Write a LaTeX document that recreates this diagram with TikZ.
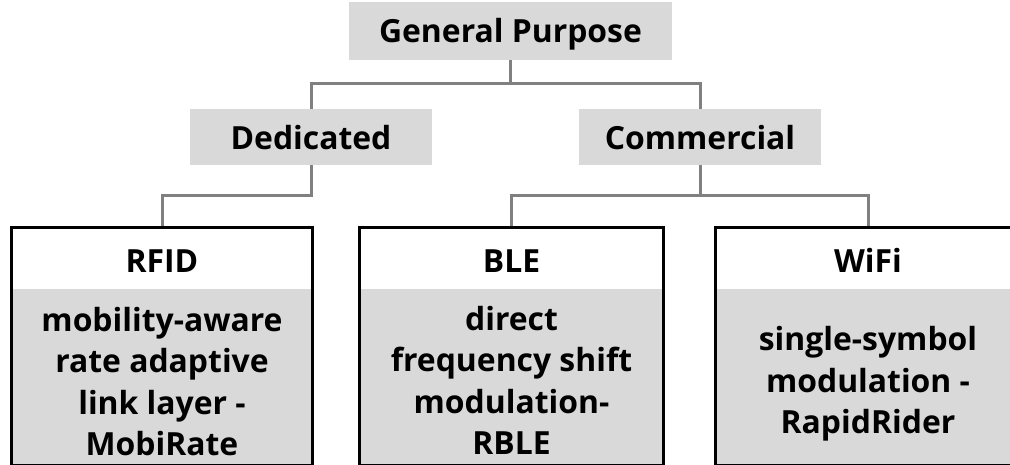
\documentclass[tikz,border=0pt]{standalone}
\usepackage{fontspec}
\setmainfont{Open Sans}
\usetikzlibrary{calc}
\definecolor{boxgray}{HTML}{D9D9D9}
\definecolor{linegray}{HTML}{808080}
\tikzset{
  x=1bp, y=1bp,
  txt/.style={font=\fontsize{32}{41.7}\selectfont\bfseries},
  catbox/.style={txt, fill=boxgray, minimum width=242bp, minimum height=56bp, inner sep=0pt, text height=26bp, text depth=0bp},
  conn/.style={draw=linegray, line width=3bp},
  headbox/.style={txt, minimum height=62bp, inner sep=0pt, text height=29bp, text depth=0bp},
  bodybox/.style={fill=boxgray, minimum height=176bp, inner sep=0pt},
  bodytext/.style={txt, align=center, inner sep=0pt, anchor=base},
  frame/.style={draw=black, line width=3bp},
}
\begin{document}
\begin{tikzpicture}
\useasboundingbox (0,0) rectangle (1010,465);
\clip (0,0) rectangle (1010,465);

% category boxes
\node[catbox, minimum width=323bp, minimum height=58bp, text height=24bp] (gp) at (510.5,434) {General Purpose};
\node[catbox] (ded) at (311,328) {Dedicated};
\node[catbox] (com) at (700,328) {Commercial};

% bottom boxes: headers and bodies
\node[headbox, minimum width=301bp] (rfidh) at (162,206.5) {RFID};
\node[bodybox, minimum width=301bp] (rfidb) at (162,87.5) {};
\node[headbox, minimum width=304bp] (bleh) at (511.5,206.5) {BLE};
\node[bodybox, minimum width=304bp] (bleb) at (511.5,87.5) {};
\node[headbox, minimum width=305bp] (wifih) at (868,206.5) {WiFi};
\node[bodybox, minimum width=305bp] (wifib) at (868,87.5) {};

% body texts (anchor = baseline of last line)
\node[bodytext] (rfidt) at (162,9) {mobility-aware\\rate adaptive\\link layer -\\MobiRate};
\node[bodytext] (blet) at (511.5,10) {direct\\frequency shift\\modulation-\\RBLE};
\node[bodytext] (wifit) at (868,31) {single-symbol\\modulation -\\RapidRider};

% junctions
\coordinate (gpj) at (510.5,381);
\coordinate (dj) at (311,269);
\coordinate (cj) at (700,269);

% connectors
\draw[conn] (gp.south) -- (gpj) -| (ded.north);
\draw[conn] (gpj) -| (com.north);
\draw[conn] (ded.south) -- (dj) -| (rfidh.north);
\draw[conn] (com.south) -- (cj);
\draw[conn] (bleh.north) |- (cj) -| (wifih.north);

% frames
\draw[frame] (rfidh.north west) rectangle (rfidb.south east);
\draw[frame] (bleh.north west) rectangle (bleb.south east);
\draw[frame] (wifih.north west) rectangle (wifib.south east);
\end{tikzpicture}
\end{document}
